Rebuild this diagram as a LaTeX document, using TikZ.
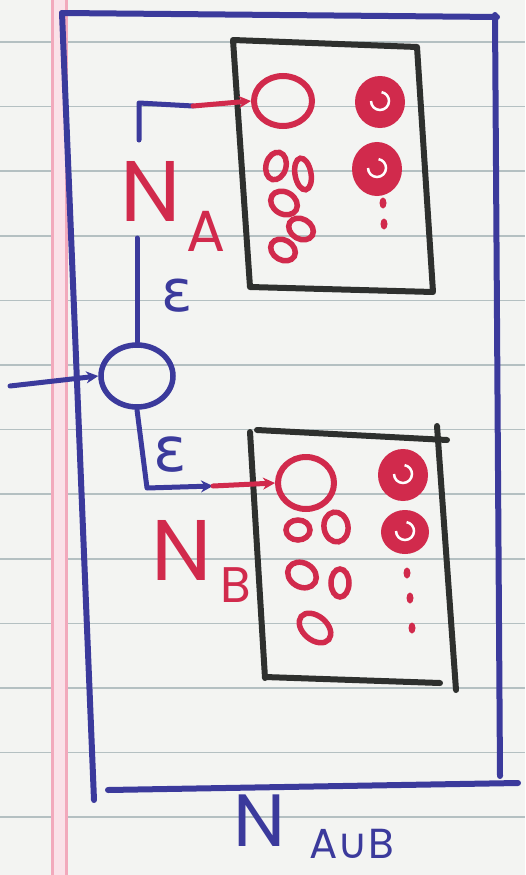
\documentclass[tikz,border=0pt]{standalone}
\usepackage{fontspec}
\setmainfont{Poppins}
\newfontfamily\dv{DejaVu Sans}
\usetikzlibrary{shapes.geometric,arrows.meta}
\definecolor{blueink}{HTML}{3B3A9C}
\definecolor{redink}{HTML}{D12A4C}
\definecolor{boxink}{HTML}{2E302E}
\definecolor{paper}{HTML}{F3F4F2}
\definecolor{rulecol}{HTML}{B4C0C2}
\definecolor{margincol}{HTML}{F2A9BC}
\begin{document}
\begin{tikzpicture}[x=1pt,y=-1pt,
  blueline/.style={draw=blueink,line width=5pt,line cap=round,line join=round},
  redline/.style={draw=redink,line width=5pt,line cap=round},
  boxline/.style={draw=boxink,line width=6pt,line cap=round,line join=round},
  startstate/.style={ellipse,draw=blueink,line width=5.5pt,inner sep=0pt},
  nstate/.style={ellipse,draw=redink,line width=6pt,inner sep=0pt},
  smallstate/.style={ellipse,draw=redink,line width=5.5pt,inner sep=0pt},
  acc/.style={ellipse,draw=redink,fill=redink,line width=2pt,inner sep=0pt,
    path picture={\draw[white,line width=2.5pt]
      ([shift={(-9pt,1pt)}]path picture bounding box.center)
      arc[start angle=180,end angle=440,radius=9pt];}},
  dotmark/.style={ellipse,fill=redink,inner sep=0pt,minimum width=7pt,minimum height=11pt},
  redlabel/.style={text=redink,inner sep=0pt,anchor=base,text depth=0pt},
  bluelabel/.style={text=blueink,inner sep=0pt,anchor=base,text depth=0pt},
  tip/.style={-{Stealth[length=12pt,width=12pt]}}
]
\useasboundingbox (0,0) rectangle (525,875);
% paper
\fill[paper] (0,0) rectangle (525,875);
\foreach \k in {0,...,12} {\draw[rulecol,line width=1.6pt] (0,{42+64.6*\k}) -- (525,{42+64.6*\k});}
\fill[margincol!35] (52,0) rectangle (66,875);
\draw[margincol,line width=3pt] (52,0) -- (52,875);
\draw[margincol,line width=3pt] (66,0) -- (66,875);

% outer blue box
\draw[blueline,line width=6pt] (62,13) -- (497,17);
\draw[blueline,line width=6pt] (495,15) -- (500,776);
\draw[blueline,line width=6pt] (108,790) -- (518,783);
\draw[blueline,line width=6pt] (62,13) -- (94,800);

% box A
\draw[boxline] (233,40) -- (417,47) -- (433,292) -- (250,287) -- cycle;
% box B
\draw[boxline] (257,430) -- (447,440);
\draw[boxline] (437,426) -- (456,690);
\draw[boxline] (265,677) -- (440,683);
\draw[boxline] (250,432) -- (265,678);

% new start state
\node[startstate,minimum width=72pt,minimum height=62pt] (s) at (137,376) {};
\coordinate (entry) at (10,386);
\draw[blueline,tip] (entry) -- (s.west);

% N_A states
\node[nstate,minimum width=58pt,minimum height=50pt] (a0) at (283,101) {};
\node[acc,minimum width=48pt,minimum height=50pt] (a1) at (380,102) {};
\node[acc,minimum width=48pt,minimum height=52pt] (a2) at (377,169) {};
\node[dotmark] (ad1) at (383,203) {};
\node[dotmark] (ad2) at (384,224) {};
\node[smallstate,minimum width=20pt,minimum height=28pt,rotate=-15] (as1) at (276,166) {};
\node[smallstate,minimum width=16pt,minimum height=32pt,rotate=10] (as2) at (303,174) {};
\node[smallstate,minimum width=28pt,minimum height=22pt,rotate=-30] (as3) at (284,203) {};
\node[smallstate,minimum width=26pt,minimum height=20pt,rotate=-30] (as4) at (301,229) {};
\node[smallstate,minimum width=26pt,minimum height=20pt,rotate=-30] (as5) at (283,250) {};

% N_B states
\node[nstate,minimum width=56pt,minimum height=52pt] (b0) at (306,483) {};
\node[acc,minimum width=48pt,minimum height=50pt] (b1) at (403,475) {};
\node[acc,minimum width=46pt,minimum height=42pt] (b2) at (405,532) {};
\node[dotmark] (bd1) at (407,573) {};
\node[dotmark] (bd2) at (410,598) {};
\node[dotmark] (bd3) at (412,628) {};
\node[smallstate,minimum width=24pt,minimum height=20pt] (bs1) at (298,530) {};
\node[smallstate,minimum width=24pt,minimum height=30pt,rotate=10] (bs2) at (336,527) {};
\node[smallstate,minimum width=30pt,minimum height=24pt,rotate=-30] (bs3) at (302,575) {};
\node[smallstate,minimum width=18pt,minimum height=28pt] (bs4) at (340,583) {};
\node[smallstate,minimum width=36pt,minimum height=24pt,rotate=-40] (bs5) at (315,628) {};

% epsilon transitions
\coordinate (agapl) at (137,238);
\coordinate (agapu) at (139,140);
\coordinate (acorner) at (139,103);
\coordinate (ain) at (193,106);
\draw[blueline] (s.north) -- (agapl);
\draw[blueline] (agapu) -- (acorner) -- (ain);
\draw[redline,tip] (ain) -- (a0.west);

\coordinate (bcorner) at (147,488);
\coordinate (bin) at (213,486);
\draw[blueline,tip] (s.south) -- (bcorner) -- (bin);
\draw[redline,tip] (bin) -- (b0.west);

% labels
\node[redlabel,font=\fontsize{86}{86}\selectfont] (NA) at (151,221) {N};
\node[redlabel,font=\fontsize{58}{58}\selectfont] (NAs) at (206,251) {A};
\node[redlabel,font=\fontsize{86}{86}\selectfont] (NB) at (182,580) {N};
\node[redlabel,font=\fontsize{50}{50}\selectfont] (NBs) at (236,602) {B};
\node[bluelabel,font=\dv\fontsize{58}{58}\selectfont] (e1) at (177,311) {ε};
\node[bluelabel,font=\dv\fontsize{62}{62}\selectfont] (e2) at (170,471) {ε};
\node[bluelabel,font=\fontsize{74}{74}\selectfont] (N) at (260,846) {N};
\node[bluelabel,font=\fontsize{42}{42}\selectfont] (Ns) at (352,858) {A{\dv∪}B};
\end{tikzpicture}
\end{document}
